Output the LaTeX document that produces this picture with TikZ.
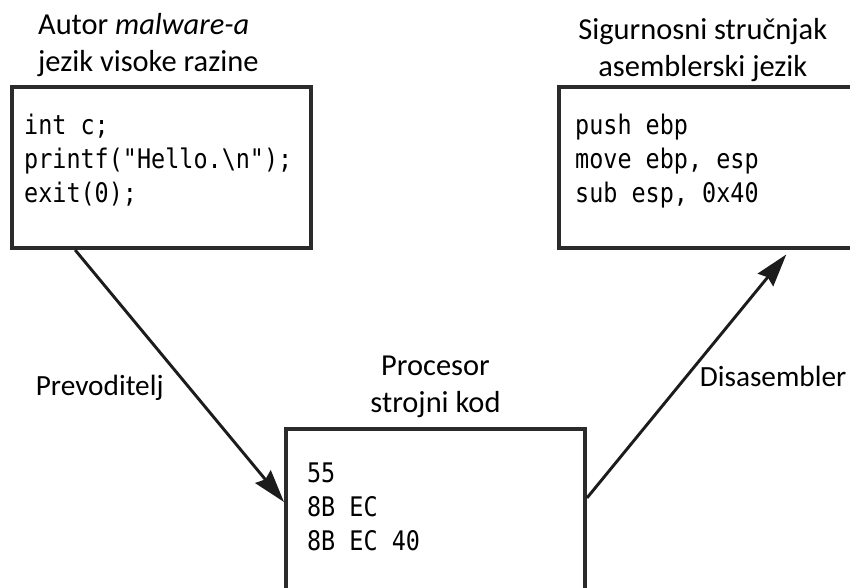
\documentclass[tikz,border=0pt]{standalone}
\usepackage{fontspec}
\setmainfont{Carlito}
\newfontfamily\codefont[FakeStretch=0.87]{DejaVu Sans Mono}
\usetikzlibrary{positioning,calc,arrows.meta}
\definecolor{boxgray}{HTML}{2B2B2B}
\definecolor{arrowgray}{HTML}{1C1C1C}
\begin{document}
\begin{tikzpicture}[x=0.03cm,y=-0.03cm,
		codebox/.style={draw=boxgray,line width=3.4pt,minimum width=8.97cm,minimum height=4.83cm,inner sep=0},
		code/.style={font=\codefont\fontsize{23}{28.9}\selectfont,align=left,inner sep=0},
		title/.style={font=\fontsize{26}{31.5}\selectfont,inner sep=0},
		flow/.style={draw=arrowgray,line width=2.5pt,-{Stealth[length=28pt,width=17pt,inset=3pt]}},
		flowlabel/.style={font=\fontsize{25}{28}\selectfont,inner sep=0}]
		\useasboundingbox (0,0) rectangle (850,587);
		\clip (0,0) rectangle (850,587);
		
		\node[codebox] (src) at (161.5,167.5) {};
		\node[codebox,minimum width=8.91cm] (dst) at (707.5,167.5) {};
		\node[codebox,minimum height=7.53cm] (mach) at (435.5,554.5) {};
		
		\node[title,align=left,above right=6.8pt and 23.8pt of src.north west] (srctitle) {Autor \textit{malware-a}\\jezik visoke razine};
		\node[title,align=center,above=3pt of dst.north,xshift=-4pt] (dsttitle) {Sigurnosni stručnjak\\asemblerski jezik};
		\node[title,align=center,above=8pt of mach.north] (machtitle) {Procesor\\strojni kod};
		
		\node[code,below right=22pt and 11.9pt of src.north west] (srccode) {\strut int c;\\printf("Hello.\textbackslash n");\\exit(0);};
		\node[code,below right=22pt and 15.3pt of dst.north west] (dstcode) {\strut push ebp\\move ebp, esp\\sub esp, 0x40};
		\node[code,below right=27.3pt and 19.5pt of mach.north west] (machcode) {\strut 55\\8B EC\\8B EC 40};
		
		\draw[flow] ($(src.south west)!0.215!(src.south east)$) -- ($(mach.north west)!0.294!(mach.south west)$)
		node[flowlabel,pos=0.548,left=21pt] (compiler) {Prevoditelj};
		\draw[flow,shorten >=5pt] ($(mach.north east)!0.278!(mach.south east)$) -- ($(dst.south west)!0.774!(dst.south east)$)
		node[flowlabel,pos=0.488,right=10.5pt] (disasm) {Disasembler};
	\end{tikzpicture}
\end{document}
